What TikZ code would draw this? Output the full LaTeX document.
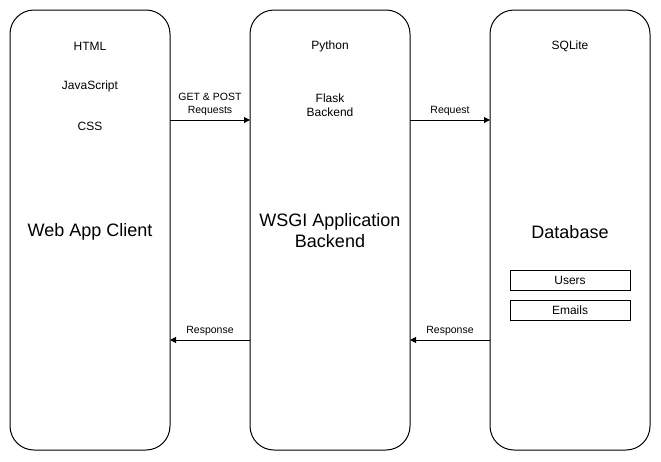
\documentclass[tikz,border=0pt]{standalone}
\usepackage{fontspec}
\setmainfont{Liberation Sans}
\usetikzlibrary{arrows.meta}
\begin{document}
\begin{tikzpicture}[x=1pt,y=-1pt,
  tier/.style={draw=black,line width=1pt,rounded corners=24pt,minimum width=160pt,minimum height=440pt,inner sep=0pt},
  tbl/.style={draw=black,line width=1pt,minimum width=120pt,minimum height=20pt,inner sep=0pt,font=\fontsize{12}{14}\selectfont},
  txt/.style={font=\fontsize{12}{14}\selectfont,align=center,inner sep=0pt},
  big/.style={font=\fontsize{18}{21}\selectfont,align=center,inner sep=0pt},
  lbl/.style={font=\fontsize{10.5}{13}\selectfont,align=center,inner sep=0pt},
  conn/.style={line width=1pt,-{Triangle[length=6pt,width=6pt]}}]
\useasboundingbox (0,0) rectangle (661,461);
\node[tier] (client) at (90,230) {};
\node[tier] (wsgi) at (330,230) {};
\node[tier] (db) at (570,230) {};
\node[txt] (html) at (90,46) {HTML};
\node[txt] (js) at (90,86) {JavaScript};
\node[txt] (css) at (90,126) {CSS};
\node[big] (clientname) at (90,232) {Web App Client};
\node[txt] (python) at (330,46) {Python};
\node[txt] (flask) at (330,105.5) {Flask\\Backend};
\node[big] (wsginame) at (330,230.5) {WSGI Application\\Backend};
\node[txt] (sqlite) at (570,46) {SQLite};
\node[big] (dbname) at (570,232) {Database};
\node[tbl] (users) at (570,280) {Users};
\node[tbl] (emails) at (570,310) {Emails};
\coordinate (c1) at (170,120); \coordinate (w1) at (250,120);
\coordinate (w2) at (410,120); \coordinate (d2) at (490,120);
\coordinate (c3) at (170,340); \coordinate (w3) at (250,340);
\coordinate (w4) at (410,340); \coordinate (d4) at (490,340);
\draw[conn] (c1) -- (w1);
\draw[conn] (w2) -- (d2);
\draw[conn] (w3) -- (c3);
\draw[conn] (d4) -- (w4);
\node[lbl] (l1) at (210,104.5) {GET \& POST\\Requests};
\node[lbl] (l2) at (450,111) {Request};
\node[lbl] (l3) at (210,331) {Response};
\node[lbl] (l4) at (450,331) {Response};
\end{tikzpicture}
\end{document}
